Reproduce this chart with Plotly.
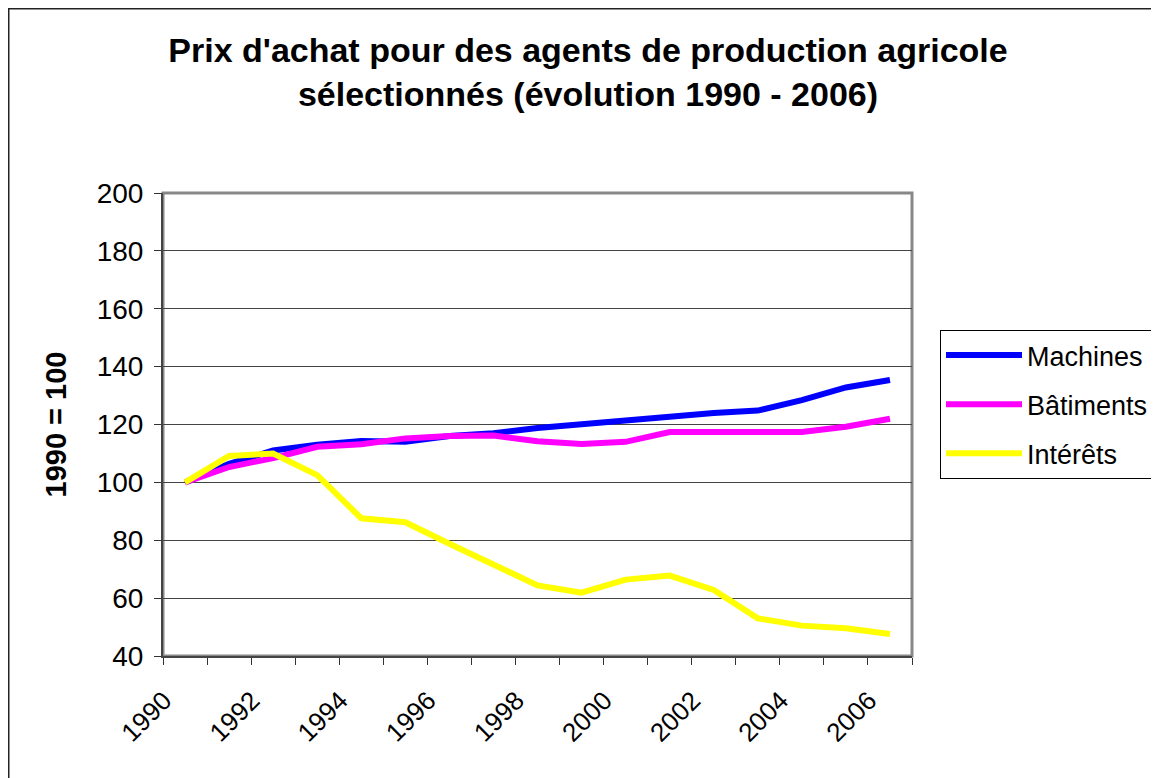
import plotly.graph_objects as go

years = [str(y) for y in range(1990, 2007)]
year_labels = [y if i % 2 == 0 else "" for i, y in enumerate(years)]

machines = [100, 106.4, 111.0, 113.0, 114.3, 114.0, 116.0, 117.0, 118.8,
            120.2, 121.2, 123.0, 124.0, 124.8, 128.4, 132.8, 135.4]
batiments = [100, 105.3, 108.4, 112.3, 113.2, 115.2, 116.0, 116.2, 114.2,
             113.3, 114.0, 117.4, 117.4, 117.4, 117.4, 119.2, 122.0]
interets = [100, 109.1, 110.0, 102.5, 87.6, 86.2, 78.8, 71.5, 64.4,
            61.9, 66.4, 67.8, 62.8, 53.0, 50.5, 49.6, 47.6]

series_names = ["Machines", "Bâtiments", "Intérêts"]
series_values = [machines, batiments, interets]
series_colors = ["#0000FF", "#FF00FF", "#FFFF00"]

y_ticks = list(range(40, 201, 20))

title_text = ("Prix d'achat pour des agents de production agricole<br>"
              "sélectionnés (évolution 1990 - 2006)")
y_title = "1990 = 100"

FONT = "Liberation Sans, Arial, sans-serif"

fig = go.Figure()
for name, vals, col in zip(series_names, series_values, series_colors):
    fig.add_trace(go.Scatter(
        x=years, y=vals, name=name, mode="lines", legendgroup=name,
        line=dict(color=col, width=6, shape="linear"),
    ))

# page has an 8px body margin; figure is sized so it fits the window
OFF = 8
W, H = 1159 - OFF, 778 - OFF
L, T = 163 - OFF, 193 - OFF
pw, ph = 749, 463
R, B = W - L - pw, H - T - ph

def px_x(px):
    return (px - OFF - L) / pw

def px_y(py):
    return (T + ph - (py - OFF)) / ph

fig.update_layout(
    width=W, height=H,
    margin=dict(l=L, r=R, t=T, b=B, pad=0, autoexpand=False),
    paper_bgcolor="white", plot_bgcolor="white",
    font=dict(family=FONT, color="black", size=27),
    title=dict(text="<b>" + title_text + "</b>", x=(588 - OFF) / W, xanchor="center",
               xref="container", y=1 - 54 / H, yanchor="top", yref="container",
               font=dict(family=FONT, size=34, color="black")),
    showlegend=True,
    legend=dict(x=px_x(940), y=px_y(330), xanchor="left", yanchor="top",
                bordercolor="black", borderwidth=1, bgcolor="white",
                font=dict(family=FONT, size=27, color="black"),
                traceorder="grouped", tracegroupgap=11, itemwidth=76),
    xaxis=dict(
        type="category", tickmode="array", tickvals=years, ticktext=year_labels,
        tickson="boundaries", ticks="outside", ticklen=7, tickwidth=1,
        tickcolor="#333333", tickangle=-45,
        tickfont=dict(family=FONT, size=26, color="black"),
        showline=True, linecolor="#444444", linewidth=2, mirror=False,
        showgrid=False, zeroline=False, ticklabelstandoff=17, ticklabelshift=-21,
        range=[-0.5, len(years) - 0.5],
    ),
    yaxis=dict(
        range=[40, 200], tickmode="array", tickvals=y_ticks,
        ticks="outside", ticklen=7, tickwidth=1, tickcolor="#333333",
        tickfont=dict(family=FONT, size=28, color="black"),
        showline=True, linecolor="#444444", linewidth=2,
        showgrid=True, gridcolor="#444444", gridwidth=1, zeroline=False,
        ticklabelstandoff=5,
        title=dict(text="<b>" + y_title + "</b>", standoff=22,
                   font=dict(family=FONT, size=29, color="black")),
    ),
    shapes=[
        dict(type="rect", xref="paper", yref="paper", x0=0, x1=1, y0=0, y1=1,
             line=dict(color="#888888", width=3), layer="below"),
        dict(type="rect", xref="paper", yref="paper",
             x0=px_x(OFF + 0.5), x1=px_x(1200), y0=px_y(820), y1=px_y(OFF + 0.5),
             line=dict(color="#222222", width=2)),
    ],
)

fig.write_html("out.html")
